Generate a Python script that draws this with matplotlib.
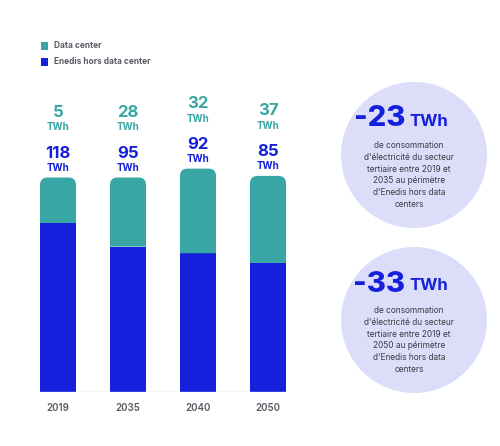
import matplotlib
matplotlib.use("Agg")
import matplotlib.pyplot as plt
from matplotlib.path import Path
from matplotlib.patches import PathPatch, Rectangle, Circle

plt.rcParams['font.family'] = ['Inter', 'DejaVu Sans']

# ---- data ----
years = ["2019", "2035", "2040", "2050"]
enedis_labels = [118, 95, 92, 85]          # TWh (text shown)
dc_labels = [5, 28, 32, 37]                # TWh (text shown)
# bar heights as drawn in the picture (stylised, not to scale with labels)
enedis_height = [118, 101.5, 96.9, 90.1]
dc_height = [31.8, 48.3, 59.1, 60.8]
legend_labels = ["Data center", "Enedis hors data center"]
callouts = [
    ("-23", "de consommation\nd'électricité du secteur\ntertiaire entre 2019 et\n2035 au périmètre\nd'Enedis hors data\ncenters"),
    ("-33", "de consommation\nd'électricité du secteur\ntertiaire entre 2019 et\n2050 au périmètre\nd'Enedis hors data\ncenters"),
]

TEAL = "#38a6a5"
BLUE = "#1420db"
GRAY = "#5b5b66"
LAV = "#dcddf9"
DARK = "#3a3a44"

W, H = 500, 446
fig = plt.figure(figsize=(W / 100, H / 100), dpi=100)

# main bar axes (pixel box: x 40..286, y 100..392)
ax = fig.add_axes([40 / W, (H - 392) / H, 246 / W, 292 / H])
x = list(range(len(years)))
bw = 36 / 70
ax.set_xlim(-0.5 * bw, len(years) - 1 + 0.5 * bw)
ymax = 292 / 1.432
ax.set_ylim(0, ymax)
for s in ax.spines.values():
    s.set_visible(False)
ax.set_yticks([])
ax.set_xticks(x)
ax.set_xticklabels(years, color=GRAY, fontsize=7, fontweight='semibold')
ax.tick_params(axis='x', length=0, pad=8)

ax.bar(x, enedis_height, width=bw, color=BLUE, zorder=2)

# rounded-top data center segments
px_per_x = 246 / (len(years) - 1 + bw)
px_per_y = 292 / ymax
r = 7.5
rx, ry = r / px_per_x, r / px_per_y
for xi, b, d in zip(x, enedis_height, dc_height):
    x0, x1 = xi - bw / 2, xi + bw / 2
    y0, y1 = b, b + d
    verts = [(x0, y0), (x0, y1 - ry), (x0, y1), (x0 + rx, y1),
             (x1 - rx, y1), (x1, y1), (x1, y1 - ry), (x1, y0), (x0, y0)]
    codes = [Path.MOVETO, Path.LINETO, Path.CURVE3, Path.CURVE3,
             Path.LINETO, Path.CURVE3, Path.CURVE3, Path.LINETO, Path.CLOSEPOLY]
    ax.add_patch(PathPatch(Path(verts, codes), facecolor=TEAL, edgecolor='none', zorder=2))
    top = y1
    ax.annotate("TWh", (xi, top), xytext=(0, 9.5), textcoords='offset pixels',
                ha='center', va='center', color=BLUE, fontsize=7, fontweight='bold')
    ax.annotate(str(enedis_labels[xi]), (xi, top), xytext=(0, 24), textcoords='offset pixels',
                ha='center', va='center', color=BLUE, fontsize=12, fontweight='bold')
    ax.annotate("TWh", (xi, top), xytext=(0, 50), textcoords='offset pixels',
                ha='center', va='center', color=TEAL, fontsize=7, fontweight='bold')
    ax.annotate(str(dc_labels[xi]), (xi, top), xytext=(0, 65), textcoords='offset pixels',
                ha='center', va='center', color=TEAL, fontsize=12, fontweight='bold')

ax.axhline(0, color="#d8d8dc", lw=1, zorder=3)

# overlay axes in pixel coordinates for legend and callouts
ov = fig.add_axes([0, 0, 1, 1], zorder=-1)
ov.set_xlim(0, W)
ov.set_ylim(H, 0)
ov.axis('off')

for i, (lab, col) in enumerate(zip(legend_labels, [TEAL, BLUE])):
    yc = 46 + 16 * i
    ov.add_patch(Rectangle((40.5, yc - 3.8), 7.6, 7.6, facecolor=col, edgecolor='none'))
    fig.text(53.5 / W, 1 - yc / H, lab, color=GRAY, fontsize=6, fontweight='bold',
             ha='left', va='center')

for (big, body), cy in zip(callouts, [155, 320]):
    cx = 414
    ov.add_patch(Circle((cx, cy), 73, facecolor=LAV, edgecolor='none'))
    fig.text(405 / W, 1 - (cy - 36) / H, big, color=BLUE, fontsize=21, fontweight='heavy',
             ha='right', va='center')
    fig.text(409 / W, 1 - (cy - 34) / H, "TWh", color=BLUE, fontsize=12, fontweight='bold',
             ha='left', va='center')
    fig.text(409 / W, 1 - (cy + 20) / H, body, color=DARK, fontsize=6,
             ha='center', va='center', linespacing=1.42)

fig.savefig("out.png", dpi=100)
